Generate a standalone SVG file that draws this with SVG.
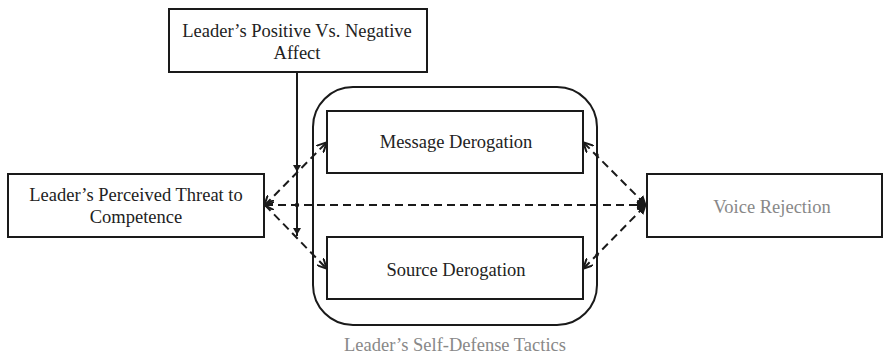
<svg xmlns="http://www.w3.org/2000/svg" width="891" height="357" viewBox="0 0 891 357">
<style>
.box{fill:#fff;stroke:#1a1a1a;stroke-width:2}
text{font-family:'Liberation Serif','Times New Roman',Times,'DejaVu Serif',serif;font-size:18.5px;fill:#222;text-anchor:middle}
.g{fill:#888}
.d{stroke:#1a1a1a;stroke-width:2;stroke-dasharray:8,5;fill:none}
.s{stroke:#1a1a1a;stroke-width:2;fill:none}
</style>
<defs>
<marker id="ah" viewBox="0 0 10 10" refX="9" refY="5" markerWidth="5" markerHeight="5" orient="auto-start-reverse" markerUnits="strokeWidth">
<path d="M0,0 L10,5 L0,10" fill="none" stroke="#1a1a1a" stroke-width="2"/>
</marker>
<marker id="af" viewBox="0 0 10 10" refX="9" refY="5" markerWidth="5" markerHeight="5" orient="auto" markerUnits="strokeWidth">
<path d="M0,0 L10,5 L0,10 z" fill="#1a1a1a"/>
</marker>
</defs>
<g id="container">
<rect x="313" y="87" width="284" height="238" rx="40" ry="40" fill="none" stroke="#1a1a1a" stroke-width="2"/>
<text class="g" x="455" y="351">Leader’s Self-Defense Tactics</text>
</g>
<g id="connectors">
<line class="s" x1="297" y1="72" x2="297" y2="236"/>
<path d="M293,165 L297,172 L301,165 z" fill="#1a1a1a"/>
<circle cx="297" cy="205" r="2.2" fill="#1a1a1a"/>
<path d="M293,228 L297,235 L301,228 z" fill="#1a1a1a"/>
<line class="d" x1="265" y1="205" x2="326" y2="143" marker-start="url(#ah)" marker-end="url(#ah)"/>
<line class="d" x1="265" y1="205" x2="326" y2="268" marker-end="url(#ah)"/>
<line class="d" x1="265" y1="205" x2="646" y2="205" marker-start="url(#ah)" marker-end="url(#af)"/>
<line class="d" x1="584" y1="143" x2="646" y2="205" marker-start="url(#ah)" marker-end="url(#af)"/>
<line class="d" x1="584" y1="268" x2="646" y2="205" marker-start="url(#ah)" marker-end="url(#af)"/>
<circle cx="597" cy="155" r="1.8" fill="#1a1a1a"/>
<circle cx="597" cy="255" r="1.8" fill="#1a1a1a"/>
</g>
<g id="affect">
<rect class="box" x="169" y="9" width="258" height="63"/>
<text x="297" y="37">Leader’s Positive Vs. Negative</text>
<text x="297" y="59">Affect</text>
</g>
<g id="threat">
<rect class="box" x="8" y="174" width="256" height="63"/>
<text x="136" y="201">Leader’s Perceived Threat to</text>
<text x="136" y="223">Competence</text>
</g>
<g id="message">
<rect class="box" x="327" y="111" width="256" height="62"/>
<text x="456" y="148">Message Derogation</text>
</g>
<g id="source">
<rect class="box" x="327" y="237" width="256" height="62"/>
<text x="456" y="276">Source Derogation</text>
</g>
<g id="voice">
<rect class="box" x="647" y="174" width="235" height="63"/>
<text class="g" x="772" y="213">Voice Rejection</text>
</g>
</svg>
